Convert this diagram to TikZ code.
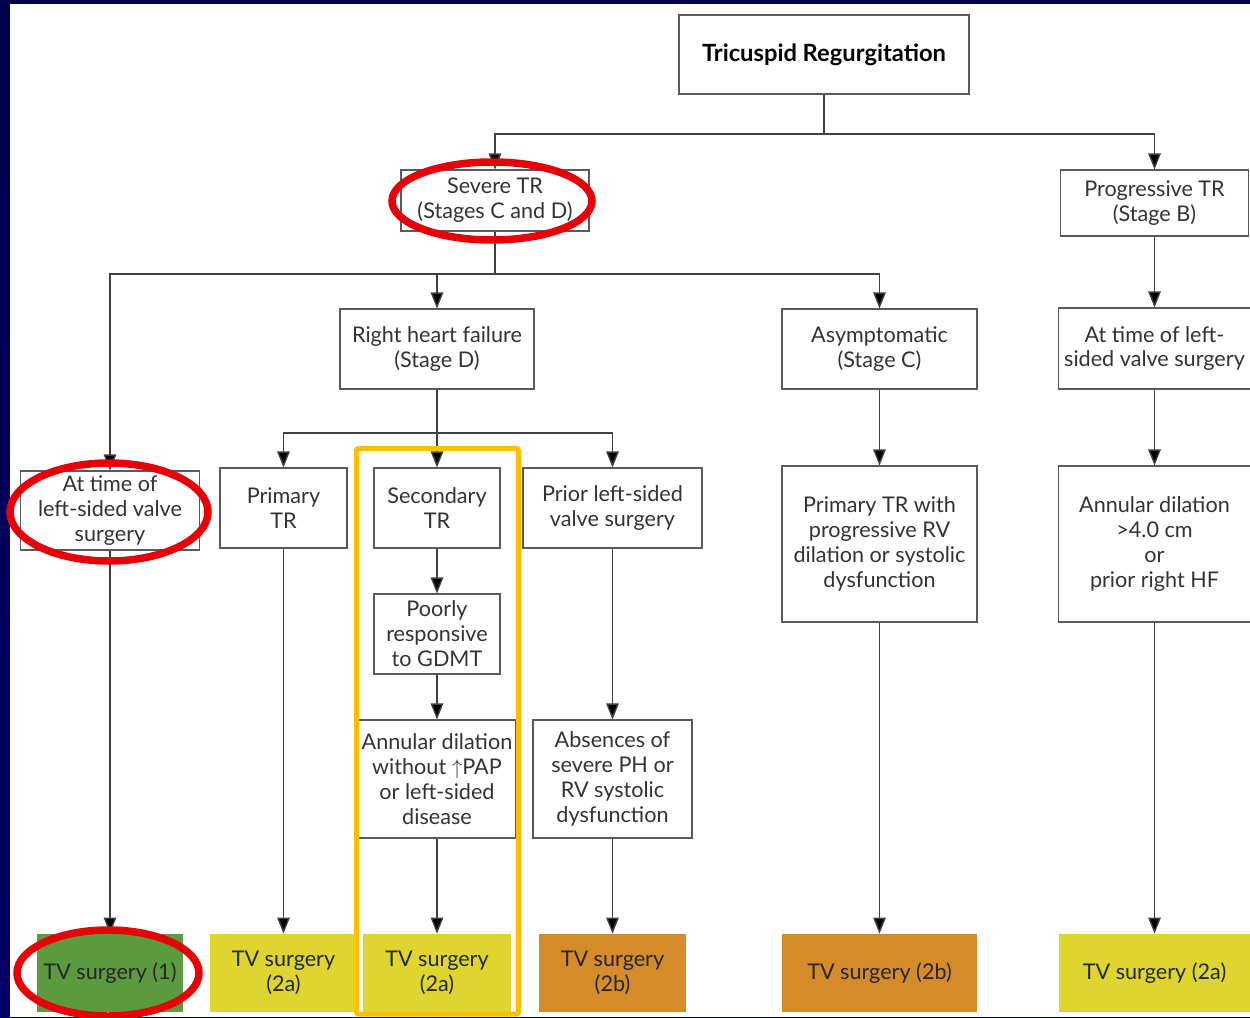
\documentclass[tikz,border=0pt]{standalone}
\usepackage{fontspec}
\setmainfont{Lato}
\usepackage[dvipsnames]{xcolor}
\usepackage{tikz}
\usetikzlibrary{arrows.meta}

\definecolor{slidebg}{HTML}{000080}
\definecolor{boxline}{HTML}{5A5A5A}
\definecolor{grade1}{HTML}{5B9A3E}
\definecolor{grade2a}{HTML}{DED62F}
\definecolor{grade2b}{HTML}{D68B2A}
\definecolor{hilite}{HTML}{FFBF00}
\definecolor{circ}{HTML}{E80008}

\begin{document}
\begin{tikzpicture}[x=0.02cm, y=-0.02cm]
  \tikzstyle{box}=[draw=boxline, line width=0.6pt, fill=white, align=center, inner sep=0pt,
    text=black!80, font=\fontsize{12.3}{14.2}\selectfont]
  \tikzstyle{result}=[align=center, inner sep=0pt, text=black!85,
    font=\fontsize{12.3}{14.2}\selectfont]
  \tikzstyle{link}=[draw=black!75, line width=0.8pt, >={Triangle[length=0.32cm, width=0.25cm, fill=black]}]
  \tikzstyle{ring}=[draw=circ, line width=0.15cm]
  % slide background
  \shade[top color=slidebg!60!black, bottom color=slidebg!120] (0,0) rectangle (1250,1017);
  \fill[white] (10,4) rectangle (1250,1017);
  \useasboundingbox (0,0) rectangle (1250,1017);
  % boxes
  \node[box, minimum width=0.02cm*290, minimum height=0.02cm*79,
    font=\fontsize{13.5}{16}\selectfont\bfseries, text=black] (T_top) at (824,54.5) {Tricuspid Regurgitation};
  \node[box, minimum width=0.02cm*188, minimum height=0.02cm*61] (T_sev) at (495,200.5) {Severe TR\\(Stages C and D)};
  \node[box, minimum width=0.02cm*188, minimum height=0.02cm*66] (T_prog) at (1154.5,203) {Progressive TR\\(Stage B)};
  \node[box, minimum width=0.02cm*194, minimum height=0.02cm*80] (T_rhf) at (437,349) {Right heart failure\\(Stage D)};
  \node[box, minimum width=0.02cm*195, minimum height=0.02cm*80] (T_asym) at (879.5,349) {Asymptomatic\\(Stage C)};
  \node[box, minimum width=0.02cm*192, minimum height=0.02cm*81] (T_atR) at (1154.5,348.5) {At time of left-\\sided valve surgery};
  \node[box, minimum width=0.02cm*179, minimum height=0.02cm*79] (T_atL) at (110,510.5) {At time of\\left-sided valve\\surgery};
  \node[box, minimum width=0.02cm*127, minimum height=0.02cm*80] (T_prim) at (283.5,508) {Primary\\TR};
  \node[box, minimum width=0.02cm*126, minimum height=0.02cm*80] (T_sec) at (437,508) {Secondary\\TR};
  \node[box, minimum width=0.02cm*179, minimum height=0.02cm*80] (T_prior) at (612.5,508) {Prior left-sided\\valve surgery};
  \node[box, minimum width=0.02cm*195, minimum height=0.02cm*156] (T_rv) at (879.5,544) {Primary TR with\\progressive RV\\dilation or systolic\\dysfunction};
  \node[box, minimum width=0.02cm*192, minimum height=0.02cm*156] (T_ann) at (1154.5,544) {Annular dilation\\>4.0 cm\\or\\prior right HF};
  \node[box, minimum width=0.02cm*126, minimum height=0.02cm*80] (T_poor) at (437,634) {Poorly\\responsive\\to GDMT};
  \node[box, minimum width=0.02cm*157, minimum height=0.02cm*118] (T_dil) at (437,779) {Annular dilation\\without \(\uparrow\)PAP\\or left-sided\\disease};
  \node[box, minimum width=0.02cm*159, minimum height=0.02cm*118] (T_abs) at (612.5,779) {Absences of\\severe PH or\\RV systolic\\dysfunction};
  % results
  \node[result, fill=grade1, minimum width=0.02cm*146, minimum height=0.02cm*78] (S_1) at (110,973) {TV surgery (1)};
  \node[result, fill=grade2a, minimum width=0.02cm*147, minimum height=0.02cm*78] (S_2) at (283.5,973) {TV surgery\\(2a)};
  \node[result, fill=grade2a, minimum width=0.02cm*148, minimum height=0.02cm*78] (S_3) at (437,973) {TV surgery\\(2a)};
  \node[result, fill=grade2b, minimum width=0.02cm*147, minimum height=0.02cm*78] (S_4) at (612.5,973) {TV surgery\\(2b)};
  \node[result, fill=grade2b, minimum width=0.02cm*195, minimum height=0.02cm*78] (S_5) at (879.5,973) {TV surgery (2b)};
  \node[result, fill=grade2a, minimum width=0.02cm*192, minimum height=0.02cm*78] (S_6) at (1154.5,973) {TV surgery (2a)};
  % branch points
  \coordinate (J_0) at (824,134);
  \coordinate (J_1) at (495,274);
  \coordinate (J_2) at (437,433);
  % connectors
  \draw[link] (T_top) -- (J_0);
  \draw[link,->] (J_0) -| (T_sev);
  \draw[link,->] (J_0) -| (T_prog);
  \draw[link] (T_sev) -- (J_1);
  \draw[link,->] (J_1) -| (T_atL);
  \draw[link,->] (J_1) -| (T_rhf);
  \draw[link,->] (J_1) -| (T_asym);
  \draw[link,->] (T_prog) -- (T_atR);
  \draw[link] (T_rhf) -- (J_2);
  \draw[link,->] (J_2) -| (T_prim);
  \draw[link,->] (J_2) -- (T_sec);
  \draw[link,->] (J_2) -| (T_prior);
  \draw[link,->] (T_asym) -- (T_rv);
  \draw[link,->] (T_atR) -- (T_ann);
  \draw[link,->] (T_sec) -- (T_poor);
  \draw[link,->] (T_poor) -- (T_dil);
  \draw[link,->] (T_prior) -- (T_abs);
  \draw[link,->] (T_atL) -- (S_1);
  \draw[link,->] (T_prim) -- (S_2);
  \draw[link,->] (T_dil) -- (S_3);
  \draw[link,->] (T_abs) -- (S_4);
  \draw[link,->] (T_rv) -- (S_5);
  \draw[link,->] (T_ann) -- (S_6);
  % highlights
  \draw[draw=hilite, line width=0.1cm, rounded corners=0.04cm] (356.5,448.5) rectangle (518.5,1014);
  \draw[ring] (492,201) ellipse [x radius=0.02cm*100, y radius=0.02cm*39];
  \draw[ring] (109,512) ellipse [x radius=0.02cm*99, y radius=0.02cm*49];
  \draw[ring] (108,973) ellipse [x radius=0.02cm*91, y radius=0.02cm*43];
\end{tikzpicture}
\end{document}
